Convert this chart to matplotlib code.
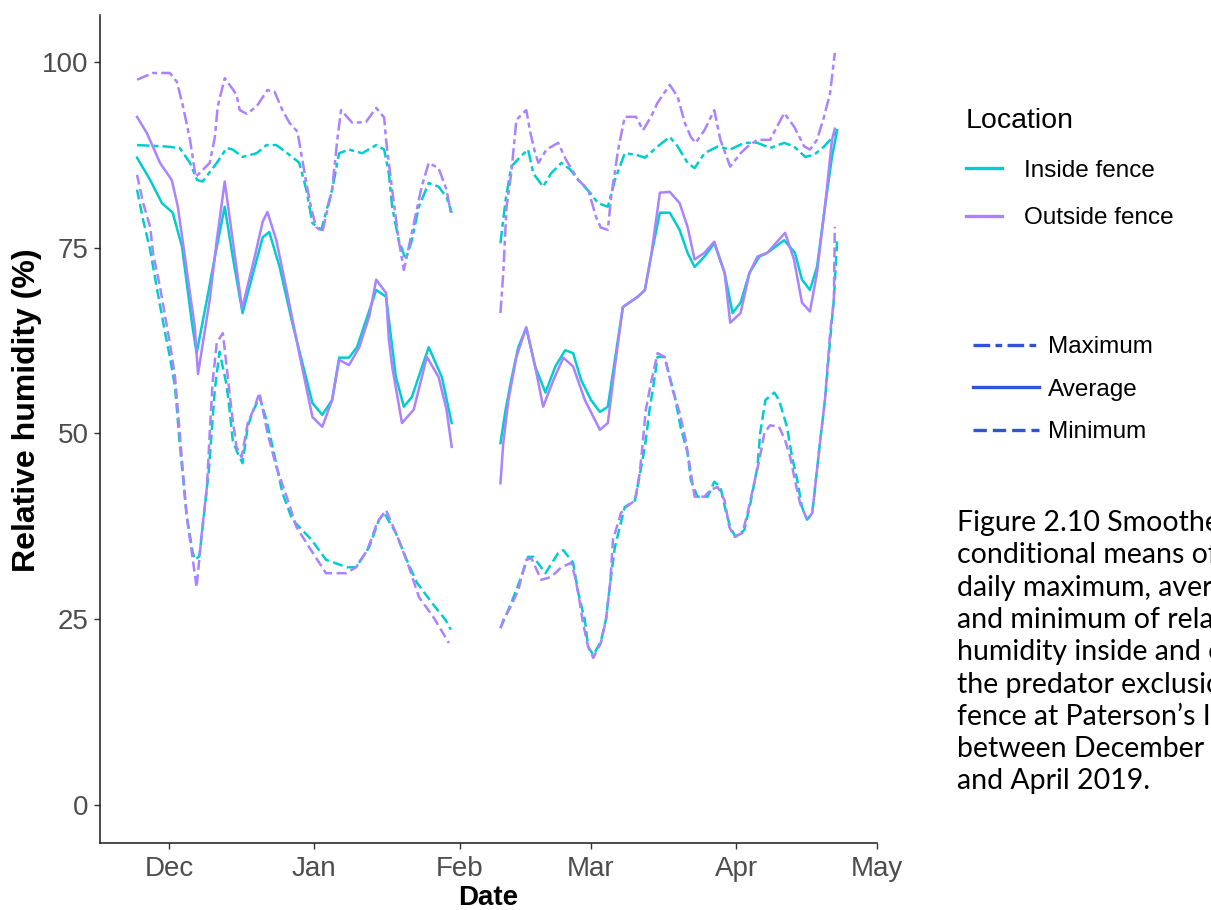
import numpy as np
import matplotlib
matplotlib.use('Agg')
import matplotlib.pyplot as plt
from matplotlib.lines import Line2D

plt.rcParams['font.family'] = ['Liberation Sans', 'DejaVu Sans']

nan = np.nan

# x values are days since 1 Dec 2018; nan marks the logger gap in early Feb
# ---- maximum ----
in_max_days = [-6.8, -0.4, 2.3, 4.5, 6.0, 7.2, 10.2, 12.3, 13.6, 15.7, 18.7, 20.8, 22.9, 24.2, 26.3, 27.8,
               29.3, 30.6, 32.5, 34.8, 36.3, 38.4, 41.2, 44.2, 45.9, 46.9, 47.6, 49.0, 50.5, 51.8, 53.3,
               55.4, 57.5, 59.2, 60.3, 65,
               70.7, 71.8, 73.0, 74.9, 76.6, 77.7, 79.8, 81.5, 83.7, 85.6, 87.3, 89.8, 91.5, 93.6, 95.1,
               97.2, 99.6, 101.5, 104.2, 106.8, 108.5, 110.6, 112.1, 114.2, 117.0, 119.7, 122.7, 125.5,
               128.2, 131.2, 133.3, 135.7, 137.6, 139.7, 141.0, 142.5]
in_max = [88.8, 88.6, 88.4, 86.4, 84.1, 83.9, 86.4, 88.4, 88.2, 87.2, 87.7, 88.8, 88.8, 88.2, 87.2, 86.4,
          82.8, 78.3, 77.4, 82.8, 87.7, 88.2, 87.7, 88.8, 88.2, 85.0, 80.5, 76.0, 73.4, 76.0, 80.5,
          83.7, 83.2, 81.8, 79.7, nan,
          75.6, 81.4, 85.9, 87.2, 88.2, 85.0, 83.2, 85.0, 86.4, 85.5, 84.1, 82.4, 81.0, 80.5, 84.1,
          87.7, 87.5, 87.1, 88.6, 89.9, 88.6, 86.4, 85.7, 87.7, 88.6, 88.2, 89.1, 89.1,
          88.4, 89.1, 88.6, 87.2, 87.5, 88.6, 89.5, 90.8]

out_max_days = [-6.8, -3.4, 0.2, 1.7, 3.0, 4.5, 5.7, 8.7, 9.8, 10.4, 11.9, 14.4, 15.1, 16.6, 18.7, 21.0,
                22.5, 24.2, 25.7, 27.4, 28.2, 29.3, 30.4, 31.4, 32.7, 34.8, 35.9, 36.7, 39.1, 42.0, 44.2,
                45.9, 46.3, 47.6, 49.0, 50.1, 51.8, 53.9, 55.4, 57.5, 59.2, 60.1, 65,
                70.7, 71.3, 72.0, 73.0, 74.1, 76.2, 77.1, 78.1, 78.8, 80.5, 83.0, 84.7, 87.3, 89.4, 91.1,
                92.1, 93.6, 94.3, 95.8, 97.2, 99.6, 101.1, 102.8, 104.2, 106.8, 108.5, 110.0, 111.3, 112.3,
                114.2, 116.3, 117.6, 119.7, 121.9, 123.4, 125.5, 128.2, 131.2, 133.3, 135.5, 136.7, 138.2,
                139.7, 141.0, 142.0]
out_max = [97.6, 98.5, 98.5, 97.3, 94.0, 89.5, 84.5, 86.4, 89.9, 94.0, 97.8, 95.6, 93.5, 93.0, 94.0, 96.2,
           96.0, 93.5, 91.8, 90.6, 87.7, 83.7, 80.1, 77.8, 77.1, 82.8, 89.5, 93.5, 91.8, 91.9, 93.8,
           92.5, 89.5, 82.8, 76.0, 72.0, 77.0, 83.2, 86.4, 85.7, 82.8, 79.7, nan,
           66.2, 71.6, 80.5, 85.0, 92.2, 93.5, 90.4, 87.7, 86.4, 88.2, 89.1, 86.8, 84.1, 82.8, 79.1,
           77.7, 77.4, 81.8, 88.2, 92.6, 92.6, 90.8, 92.6, 94.5, 96.9, 95.3, 91.8, 89.9, 89.1,
           90.8, 93.5, 89.5, 85.9, 87.7, 88.6, 89.5, 89.5, 93.1, 91.3, 88.6, 88.2, 89.5,
           92.6, 95.8, 101.2]

# ---- average ----
in_avg_days = [-6.8, -4.0, -1.5, 0.8, 2.8, 4.9, 5.9, 8.1, 10.2, 11.9, 13.6, 15.7, 18.3, 20.0, 21.4, 23.6,
               26.3, 30.6, 32.7, 34.8, 36.3, 38.4, 40.1, 44.2, 46.3, 48.4, 50.1, 51.8, 55.4, 58.2, 60.3, 65,
               70.7, 71.8, 73.0, 74.5, 76.2, 78.1, 80.3, 82.4, 84.5, 86.2, 87.9, 90.0, 91.9, 93.6, 95.1,
               96.8, 100.0, 101.5, 102.8, 104.7, 106.8, 108.9, 110.6, 112.1, 114.2, 116.3, 118.5, 120.2,
               121.9, 123.8, 125.9, 127.6, 131.2, 133.5, 135.0, 136.7, 138.2, 139.9, 141.4, 142.5]
in_avg = [87.1, 84.1, 81.0, 79.7, 75.1, 64.9, 60.8, 68.0, 75.1, 80.5, 73.8, 66.2, 72.4, 76.4, 77.1, 72.4,
          64.9, 54.1, 52.5, 54.5, 60.2, 60.2, 61.6, 69.3, 68.4, 57.6, 53.6, 54.9, 61.6, 57.6, 51.4, nan,
          48.7, 53.2, 57.2, 61.6, 64.2, 59.0, 55.5, 59.0, 61.2, 60.8, 57.2, 54.5, 52.9, 53.6, 59.9,
          67.0, 68.4, 69.3, 73.8, 79.7, 79.7, 77.4, 74.3, 72.4, 73.8, 75.6, 71.6, 66.2,
          67.6, 71.6, 73.8, 74.3, 76.0, 74.3, 70.7, 69.3, 72.4, 80.5, 87.2, 90.8]

out_avg_days = [-6.8, -4.7, -1.9, 0.6, 1.9, 3.4, 4.9, 5.5, 6.2, 8.7, 10.2, 11.9, 13.6, 15.6, 18.3, 20.0,
                21.0, 22.9, 25.1, 27.2, 30.6, 32.7, 34.8, 36.3, 38.4, 40.6, 42.7, 44.2, 46.3, 46.9, 47.6,
                49.7, 52.2, 55.0, 57.5, 59.2, 60.3, 65,
                70.7, 71.3, 72.4, 74.1, 76.2, 78.1, 79.8, 82.0, 84.1, 86.2, 88.7, 91.9, 93.6, 95.1, 96.8,
                100.0, 101.5, 102.8, 104.7, 106.8, 108.9, 110.6, 112.1, 114.2, 116.3, 118.5, 119.7, 121.9,
                123.8, 125.5, 127.6, 131.4, 133.3, 135.0, 136.7, 138.2, 139.9, 141.4, 142.0]
out_avg = [92.6, 90.4, 86.4, 84.1, 80.5, 73.8, 67.0, 64.5, 58.0, 68.0, 76.0, 83.9, 76.0, 66.8, 73.8, 78.5,
           79.8, 76.0, 69.3, 62.6, 52.2, 50.9, 54.5, 59.9, 59.2, 61.6, 65.7, 70.7, 68.9, 62.6, 59.0,
           51.4, 53.2, 60.3, 57.6, 53.2, 48.2, nan,
           43.3, 48.7, 54.5, 60.3, 64.3, 59.0, 53.6, 57.2, 60.2, 59.0, 54.5, 50.5, 51.4, 59.0, 67.0,
           68.4, 69.3, 73.8, 82.4, 82.5, 81.0, 77.8, 73.4, 74.3, 75.8, 71.6, 64.9, 66.2,
           71.6, 73.8, 74.3, 77.0, 73.4, 67.6, 66.4, 71.6, 80.5, 89.5, 91.0]

# ---- minimum ----
in_min_days = [-6.8, -5.5, -4.0, -2.5, -0.8, 0.2, 1.3, 2.3, 3.8, 5.1, 5.6, 6.5, 8.5, 9.8, 10.8, 12.3, 13.0,
               13.6, 14.6, 15.7, 16.8, 17.8, 19.3, 20.8, 22.1, 24.2, 26.3, 30.4, 33.5, 38.0, 39.9, 42.7,
               44.8, 45.9, 48.4, 50.7, 52.9, 56.1, 59.0, 60.1, 65,
               70.7, 73.0, 74.9, 76.6, 77.7, 80.3, 83.0, 84.1, 86.2, 87.3, 88.7, 89.4, 90.5, 92.1, 93.2,
               94.1, 95.1, 97.2, 99.4, 100.6, 101.5, 102.5, 103.6, 104.2, 105.7, 107.9, 109.1, 110.6,
               111.3, 112.7, 114.9, 116.3, 117.6, 118.7, 119.7, 120.8, 122.7, 124.0, 125.5, 126.1, 127.2,
               129.1, 130.1, 131.8, 132.9, 134.0, 135.0, 136.1, 137.2, 137.8, 138.9, 139.9, 141.0, 141.8,
               142.5]
in_min = [82.8, 78.7, 74.7, 69.3, 63.5, 60.3, 56.3, 48.7, 38.8, 33.9, 33.0, 33.5, 45.0, 56.0, 61.0, 56.5, 52.8,
          49.1, 47.4, 46.0, 50.9, 52.8, 54.9, 51.8, 48.2, 42.0, 38.4, 35.7, 33.0, 32.0, 32.0, 34.7,
          38.4, 39.3, 36.6, 33.0, 29.9, 27.2, 24.9, 23.6, nan,
          23.8, 27.2, 30.3, 33.4, 33.4, 31.2, 33.9, 34.3, 32.6, 28.5, 24.9, 21.3, 20.2, 22.0, 25.0,
          29.9, 34.7, 40.1, 41.0, 45.1, 48.2, 53.2, 57.6, 60.3, 60.3, 54.9, 50.9, 47.4,
          43.7, 41.5, 41.5, 43.5, 42.8, 39.7, 37.4, 36.1, 37.0, 40.6, 45.5, 50.1, 54.5,
          55.5, 54.5, 50.9, 46.8, 43.7, 40.1, 38.4, 39.3, 42.8, 49.1, 54.5, 62.6, 68.0,
          76.0]

out_min_days = [-6.8, -5.5, -4.0, -3.4, -1.9, -0.8, 0.2, 1.3, 2.3, 3.0, 3.8, 4.9, 5.9, 7.0, 8.1, 8.7, 9.3,
                10.2, 11.5, 12.3, 13.4, 14.4, 15.5, 16.8, 18.3, 19.3, 21.0, 22.9, 25.1, 27.2, 29.9, 33.5,
                37.8, 39.9, 42.3, 44.4, 46.3, 49.0, 51.2, 53.3, 56.5, 59.7, 65,
                70.7, 71.3, 72.8, 74.5, 75.2, 76.2, 77.3, 79.4, 81.5, 83.7, 85.8, 86.6, 87.3, 88.3, 89.4,
                90.5, 92.1, 93.2, 94.1, 94.7, 96.4, 97.5, 99.4, 100.4, 101.1, 101.7, 102.8, 104.2, 105.7,
                107.4, 108.9, 110.2, 111.3, 112.1, 114.2, 115.5, 117.0, 118.5, 119.5, 120.6, 122.3, 123.4,
                124.8, 125.9, 127.0, 128.2, 130.1, 131.4, 132.5, 133.5, 134.6, 136.1, 137.2, 137.8, 138.9,
                139.9, 141.0, 141.8, 142.0]
out_min = [84.8, 81.0, 77.8, 74.3, 69.7, 65.7, 62.2, 57.6, 50.1, 44.7, 38.8, 33.9, 29.3, 36.6, 42.8, 50.1, 56.8,
           62.2, 63.5, 59.0, 52.8, 48.2, 46.8, 51.4, 53.6, 55.5, 50.1, 45.5, 41.5, 37.4, 34.7, 31.2,
           31.2, 32.0, 34.3, 38.0, 39.7, 35.7, 32.0, 28.0, 25.2, 21.8, nan,
           23.8, 24.9, 26.6, 28.9, 30.7, 33.0, 33.2, 30.3, 30.7, 32.0, 32.6, 30.7, 28.5, 24.5, 21.3,
           19.8, 21.8, 24.9, 29.9, 35.7, 39.3, 40.1, 41.0, 44.7, 49.1, 53.2, 56.8, 60.8, 60.3,
           55.9, 52.8, 49.1, 44.7, 41.5, 41.5, 42.4, 42.8, 41.0, 37.4, 36.1, 36.6, 39.3,
           43.3, 46.4, 50.1, 51.1, 50.9, 49.1, 46.8, 43.7, 40.6, 38.4, 39.3, 42.8, 49.1,
           54.5, 63.5, 68.0, 77.8]

month_ticks = [0, 31, 62, 90, 121, 151]
month_labels = ['Dec', 'Jan', 'Feb', 'Mar', 'Apr', 'May']

inside_col = '#00CDCD'
outside_col = '#AB82FF'
key_col = '#2F52D9'
lw = 1.8
max_ls = (0, (5, 1.6, 2, 1.6))
min_ls = (0, (4, 1.8))

fig = plt.figure(figsize=(12.11, 9.10), dpi=100)
ax = fig.add_axes([100 / 1211, 1 - 843 / 910, 777 / 1211, 828 / 910])

ax.plot(in_max_days, in_max, color=inside_col, lw=lw, ls=max_ls)
ax.plot(in_avg_days, in_avg, color=inside_col, lw=lw)
ax.plot(in_min_days, in_min, color=inside_col, lw=lw, ls=min_ls)
ax.plot(out_max_days, out_max, color=outside_col, lw=lw, ls=max_ls)
ax.plot(out_avg_days, out_avg, color=outside_col, lw=lw)
ax.plot(out_min_days, out_min, color=outside_col, lw=lw, ls=min_ls)

ax.set_xlim(-14.7, 151.0)
ax.set_ylim(-5.1, 106.3)
ax.set_xticks(month_ticks)
ax.set_xticklabels(month_labels)
ax.set_yticks([0, 25, 50, 75, 100])

for s in ['top', 'right']:
    ax.spines[s].set_visible(False)
for s in ['left', 'bottom']:
    ax.spines[s].set_linewidth(1.1)
    ax.spines[s].set_color('#1a1a1a')
ax.tick_params(length=4.3, width=1.0, color='#333333', labelsize=20, labelcolor='#4D4D4D', pad=4)
ax.tick_params(axis='x', pad=5)

ax.set_xlabel('Date', fontsize=20, fontweight='bold', labelpad=2.5)
ax.set_ylabel('Relative humidity (%)', fontsize=23, fontweight='bold')
ax.yaxis.set_label_coords(-0.075, 0.523)

# location key
loc_handles = [Line2D([], [], color=inside_col, lw=2.4), Line2D([], [], color=outside_col, lw=2.4)]
leg1 = fig.legend(loc_handles, ['Inside fence', 'Outside fence'], title='Location',
                  loc='upper left', bbox_to_anchor=(966 / 1211, 1 - 108 / 910), frameon=False,
                  fontsize=17.5, title_fontsize=20.5, alignment='left', handlelength=1.5,
                  handletextpad=0.9, labelspacing=1.05, borderpad=0, borderaxespad=0)

# statistic key
stat_handles = [Line2D([], [], color=key_col, lw=2.4, ls=max_ls),
                Line2D([], [], color=key_col, lw=2.4),
                Line2D([], [], color=key_col, lw=2.4, ls=min_ls)]
leg2 = fig.legend(stat_handles, ['Maximum', 'Average', 'Minimum'], loc='upper left',
                  bbox_to_anchor=(973 / 1211, 1 - 336 / 910), frameon=False, fontsize=17.5,
                  handlelength=2.7, handletextpad=0.4, labelspacing=0.85, borderpad=0, borderaxespad=0)

caption = ('Figure 2.10 Smoothed\nconditional means of\ndaily maximum, average\n'
           'and minimum of relative\nhumidity inside and outside\nthe predator exclusion\n'
           'fence at Paterson\u2019s Inlet\nbetween December 2018\nand April 2019.')
fig.text(957 / 1211, 1 - 510 / 910, caption, va='top', ha='left', fontsize=20.5,
         family=['Lato', 'DejaVu Sans'], linespacing=1.30, color='black')

fig.savefig('out.png', dpi=100)
